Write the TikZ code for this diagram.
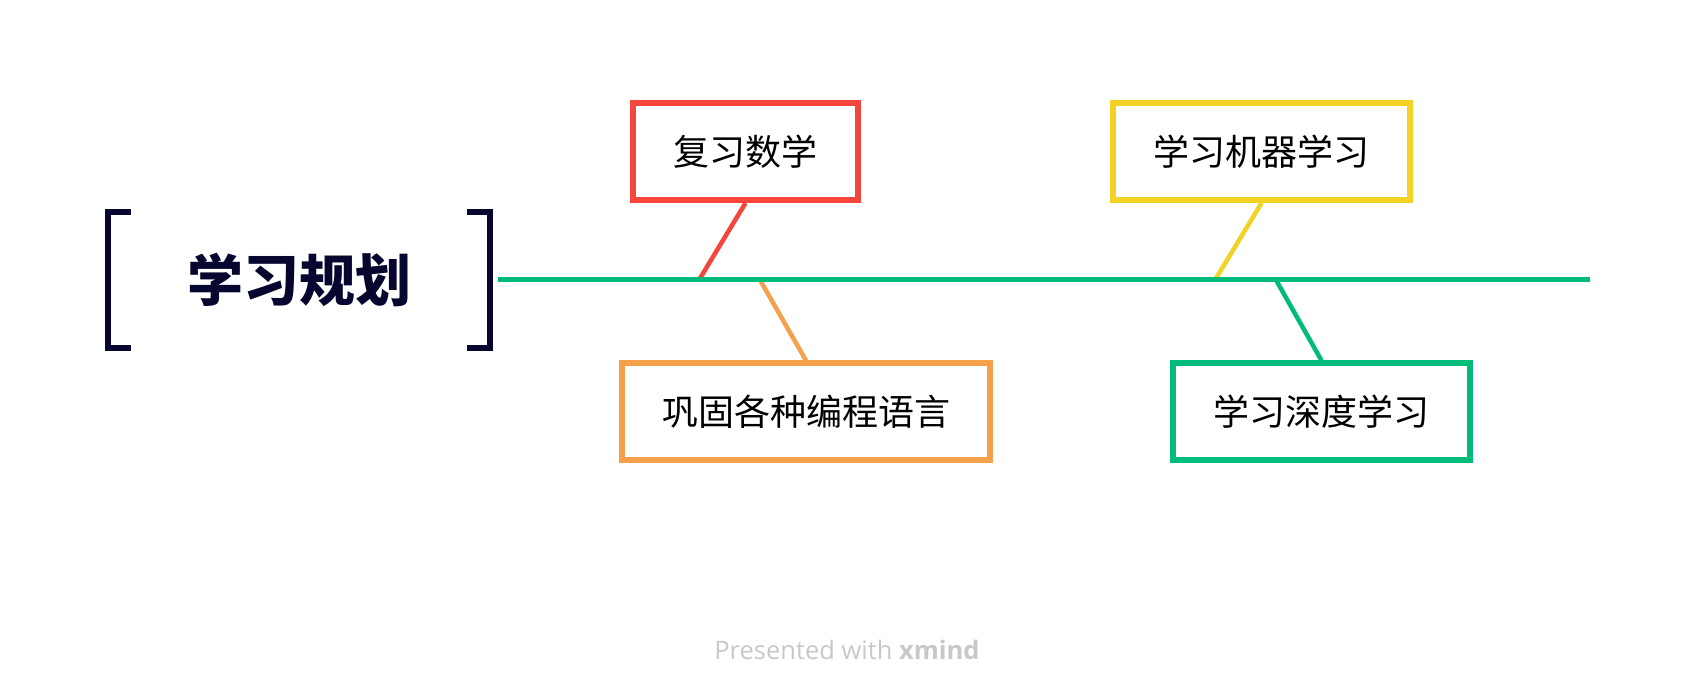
\documentclass[tikz,border=0pt]{standalone}
\usepackage{fontspec}
\newfontfamily\cjk{Noto Sans CJK SC}
\newfontfamily\footfont{Open Sans}
\definecolor{navy}{HTML}{06062F}
\definecolor{mathred}{HTML}{F4463D}
\definecolor{codeorange}{HTML}{F5A04B}
\definecolor{mlyellow}{HTML}{F1D225}
\definecolor{dlgreen}{HTML}{00BB7A}
\definecolor{footgray}{HTML}{C8C8C8}

\begin{document}
\begin{tikzpicture}[x=1pt, y=-1pt,
    topicbox/.style={draw=#1, line width=6pt, inner sep=0pt, minimum height=97pt,
        font=\cjk\fontsize{36}{36}\selectfont},
    bone/.style={line width=4.5pt, #1}]
        \useasboundingbox (0,0) rectangle (1690,700);

        % tema central entre corchetes
        \node[minimum width=382pt, minimum height=136pt, inner sep=0pt, text=navy,
            font=\cjk\bfseries\fontsize{56}{56}\selectfont] (title) at (299,280) {学习规划};
        \draw[navy, line width=6pt] ([xshift=23pt]title.north west) -- (title.north west)
            -- (title.south west) -- ([xshift=23pt]title.south west);
        \draw[navy, line width=6pt] ([xshift=-23pt]title.north east) -- (title.north east)
            -- (title.south east) -- ([xshift=-23pt]title.south east);

        % subtemas
        \node[topicbox=mathred, minimum width=225pt] (math) at (745.5,151.5) {复习数学};
        \node[topicbox=codeorange, minimum width=368pt] (code) at (806,412) {巩固各种编程语言};
        \node[topicbox=mlyellow, minimum width=297pt] (ml) at (1261.5,151.5) {学习机器学习};
        \node[topicbox=dlgreen, minimum width=297pt] (dl) at (1321.5,412) {学习深度学习};

        % puntos sobre la espina
        \coordinate (s1) at (699,280);
        \coordinate (s2) at (760,280);
        \coordinate (s3) at (1215,280);
        \coordinate (s4) at (1276,280);
        \coordinate (spineend) at (1590,280);

        \draw[bone=mathred] (math.south) -- (s1);
        \draw[bone=codeorange] (s2) -- (code.north);
        \draw[bone=mlyellow] (ml.south) -- (s3);
        \draw[bone=dlgreen] (s4) -- (dl.north);
        \draw[dlgreen, line width=5pt] ([xshift=8pt]title.east) -- (spineend);

        \node[text=footgray, font=\footfont\fontsize{25.5}{25.5}\selectfont] (foot) at (847,650)
            {Presented with \textbf{xmind}};
    \end{tikzpicture}
\end{document}
